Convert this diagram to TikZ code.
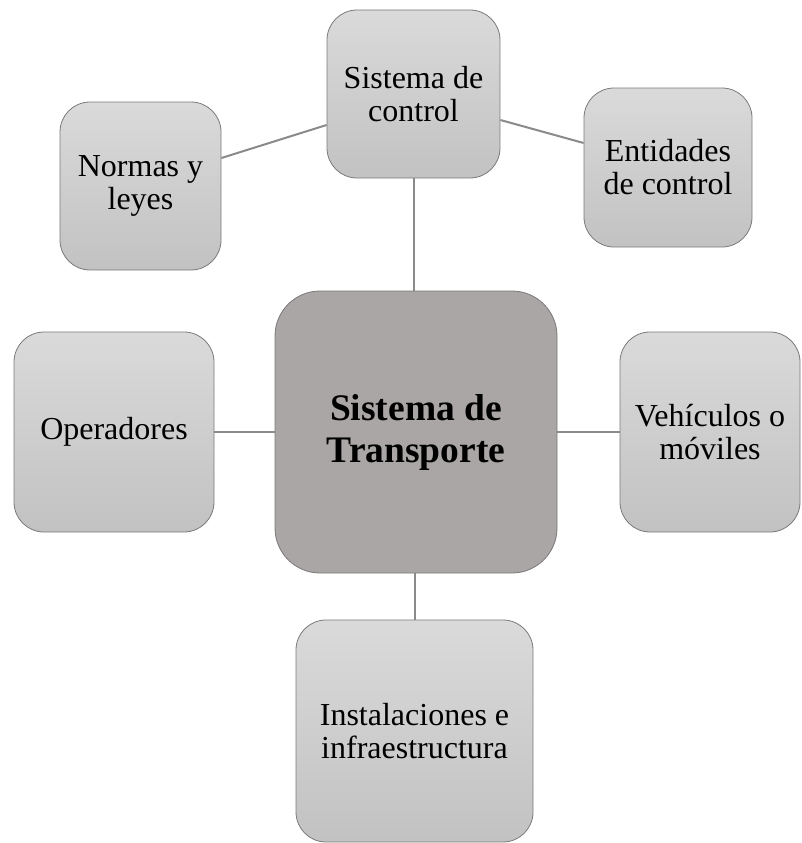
\documentclass[tikz,border=0pt]{standalone}
\usepackage{fontspec}
\setmainfont{Liberation Serif}
\definecolor{boxtop}{HTML}{DADADA}
\definecolor{boxbot}{HTML}{C2C2C2}
\definecolor{boxedge}{HTML}{7A7A7A}
\definecolor{mainfill}{HTML}{A9A6A5}
\definecolor{linkcol}{HTML}{8A8A8A}
\tikzset{
  leaf/.style={draw=boxedge, line width=0.8pt, rounded corners=30pt, top color=boxtop, bottom color=boxbot,
    align=center, inner sep=0pt, font=\fontsize{32}{33}\selectfont},
  hub/.style={draw=boxedge, line width=0.8pt, rounded corners=45pt, fill=mainfill,
    align=center, inner sep=0pt, minimum width=282pt, minimum height=282pt,
    font=\fontsize{37.5}{42}\selectfont\bfseries},
  link/.style={draw=linkcol, line width=2pt}
}
\begin{document}
\begin{tikzpicture}[x=1pt,y=-1pt]
\useasboundingbox (0,0) rectangle (801,843);
\node[hub] (hub) at (416,432) {Sistema de\\Transporte};
\node[leaf, minimum width=173pt, minimum height=168pt] (ctrl) at (413.5,94) {Sistema de\\control};
\node[leaf, minimum width=161pt, minimum height=168pt] (norm) at (140.5,186) {Normas y\\leyes};
\node[leaf, minimum width=168pt, minimum height=159pt] (ent) at (668,167.5) {Entidades\\de control};
\node[leaf, minimum width=200pt, minimum height=200pt] (oper) at (114,432) {Operadores};
\node[leaf, minimum width=180pt, minimum height=200pt] (veh) at (710,432) {Vehículos o\\móviles};
\node[leaf, minimum width=237pt, minimum height=222pt] (inst) at (414.5,731) {Instalaciones e\\infraestructura};
\draw[link] (ctrl.south) -- (ctrl.south |- hub.north);
\draw[link] (hub.west) -- (oper.east);
\draw[link] (hub.east) -- (veh.west);
\draw[link] (inst.north |- hub.south) -- (inst.north);
\draw[link] (ctrl.west |- 0,125) -- (norm.east |- 0,158);
\draw[link] (ctrl.east |- 0,120) -- (ent.west |- 0,143);
\end{tikzpicture}
\end{document}
